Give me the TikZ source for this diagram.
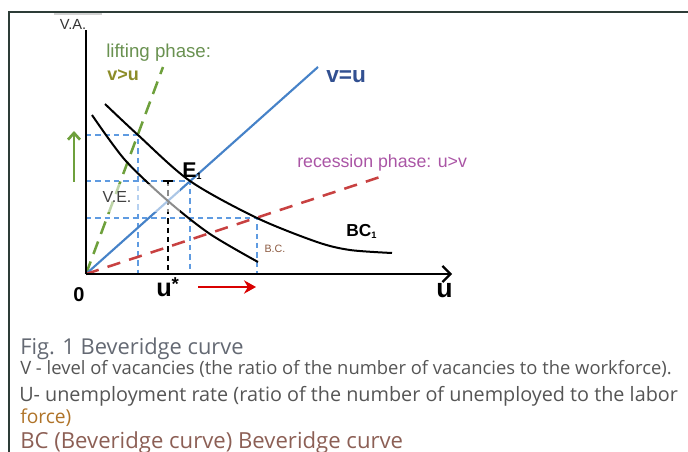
\documentclass[tikz,border=0pt]{standalone}
\usepackage{fontspec}
\setmainfont{Liberation Sans}
\newfontfamily\capfont{Open Sans}
\usetikzlibrary{arrows.meta}

\definecolor{framec}{RGB}{45,60,55}
\definecolor{liftgreen}{RGB}{105,145,80}
\definecolor{olivec}{RGB}{140,140,40}
\definecolor{arrgreen}{RGB}{110,160,60}
\definecolor{lineblue}{RGB}{70,130,200}
\definecolor{guideblue}{RGB}{95,155,225}
\definecolor{vutext}{RGB}{50,80,145}
\definecolor{recred}{RGB}{200,65,65}
\definecolor{recpurple}{RGB}{170,85,165}
\definecolor{bcbrown}{RGB}{140,90,65}
\definecolor{capgray}{RGB}{100,105,115}
\definecolor{txtgray}{RGB}{85,85,85}
\definecolor{forceorange}{RGB}{175,115,40}
\definecolor{capbrown}{RGB}{140,95,85}

\newcommand{\fsz}[1]{\fontsize{#1}{#1}\selectfont}

\begin{document}
\begin{tikzpicture}[x=0.75pt,y=-0.75pt,
  guide/.style={guideblue,line width=0.9pt,dash pattern=on 4pt off 3pt},
  bcurve/.style={black,line width=1.5pt},
  plotlab/.style={inner sep=0pt},
  caplab/.style={inner sep=0pt,anchor=base west}]

  \useasboundingbox (0,0) rectangle (688,452);

  % -------- INPUT --------
  \coordinate (O)    at (86,274);   % origin
  \coordinate (Ytop) at (86,30);
  \coordinate (Xend) at (452,274);
  \coordinate (Gtop) at (163,67);   % end of lifting line
  \coordinate (Btop) at (318,67);   % end of v=u
  \coordinate (Rtop) at (380,177);  % end of recession line
  \coordinate (G)    at (138,135);  % lifting line on BC1
  \coordinate (E1)   at (190,181);
  \coordinate (VE)   at (168,201);
  \coordinate (R)    at (257,218);  % recession line on BC1

  % Frame
  \draw[framec,line width=1.1pt] (9,452) -- (9,12) -- (688,12);
  \draw[gray!35,line width=1.5pt] (54,14) -- (102,14);

  % Guide lines
  \foreach \p in {G,E1,R} {
      \draw[guide] (O |- \p) -- (\p) -- (\p |- O);
  }
  \draw[black,line width=0.9pt,dash pattern=on 4pt off 3pt] (VE |- E1) -- (VE |- O);
  \draw[black,line width=1.2pt] ([xshift=-3.5]VE |- E1) -- ([xshift=3.5]VE |- E1);

  % Phase lines
  \draw[arrgreen,line width=1.9pt,dash pattern=on 10pt off 6pt] (O) -- (Gtop);
  \draw[lineblue,line width=1.6pt] (O) -- (Btop);
  \draw[recred,line width=1.9pt,dash pattern=on 10pt off 7pt] (O) -- (Rtop);

  % Beveridge curves
  \draw[bcurve] plot[smooth] coordinates {(92,115) (125,160) (VE) (210,234) (258,262)};
  \draw[bcurve] plot[smooth] coordinates {(105,104) (G) (E1) (R) (317,242) (350,250) (392,253)};

  % Faded box behind V.E.
  \fill[white,opacity=0.55] (60,184) rectangle (180,212);

  % Axes
  \draw[black,line width=2.2pt,-{Straight Barb[length=6pt,width=12pt,line width=1.6pt]}] (O) -- (Xend);
  \draw[black,line width=2.2pt] (O) -- (Ytop);

  % Shift arrows
  \coordinate (gA) at (74,182);
  \coordinate (gB) at (74,131);
  \draw[arrgreen,line width=2pt,-{Straight Barb[length=5pt,width=9pt]}] (gA) -- (gB);
  \coordinate (rA) at (198,287);
  \coordinate (rB) at (256,287);
  \draw[red!85!black,line width=2.2pt,-{Stealth[length=9pt,width=10pt]}] (rA) -- (rB);

  % Labels
  \node[plotlab,text=black!80,font=\fsz{11}] (VAlab) at (73,24) {V.A.};
  \node[plotlab,anchor=base west,text=liftgreen,font=\fsz{14}] (lift) at (106,58) {lifting phase:};
  \node[plotlab,anchor=base west,text=olivec,font=\bfseries\fsz{13.5}] (vgu) at (107,81) {v>u};
  \node[plotlab,anchor=base west,text=vutext,font=\bfseries\fsz{17}] (vu) at (326,83) {v=u};
  \node[plotlab,anchor=base west,text=recpurple,font=\fsz{13.3}] (recess) at (297,168) {recession phase: u>v};
  \node[plotlab,anchor=base west,font=\bfseries\fsz{16}] (E1lab) at (182,178) {E\raisebox{-1pt}{\fsz{7}1}};
  \node[plotlab,anchor=base west,font=\bfseries\fsz{13}] (BClab) at (346,237) {BC\raisebox{-1pt}{\fsz{7}1}};
  \node[plotlab,text=black!75,font=\fsz{12}] (VElab) at (117,197) {V.E.};
  \node[plotlab,text=bcbrown,font=\fsz{8}] (bclab) at (275,249) {B.C.};
  \node[plotlab,font=\bfseries\fsz{15}] (zero) at (79,295) {0};
  \node[plotlab,anchor=base west,font=\bfseries\fsz{19}] (ustar) at (156,296) {u\raisebox{4pt}{\fsz{14}*}};
  \node[plotlab,anchor=base west,font=\bfseries\fsz{20}] (ulab) at (436,297) {u};

  % Caption
  \node[caplab,text=capgray,font=\capfont\fsz{16.4}] (capA) at (20,354) {Fig. 1 Beveridge curve};
  \node[caplab,text=txtgray,font=\capfont\fsz{13.8}] (capB) at (20,374) {V - level of vacancies (the ratio of the number of vacancies to the workforce).};
  \node[caplab,text=txtgray,font=\capfont\fsz{14.85}] (capC) at (19,401) {U- unemployment rate (ratio of the number of unemployed to the labor};
  \node[caplab,text=forceorange,font=\capfont\fsz{14.4}] (capD) at (20,423) {force)};
  \node[caplab,text=capbrown,font=\capfont\fsz{16.6}] (capE) at (20,448) {BC (Beveridge curve) Beveridge curve};

\end{tikzpicture}
\end{document}
